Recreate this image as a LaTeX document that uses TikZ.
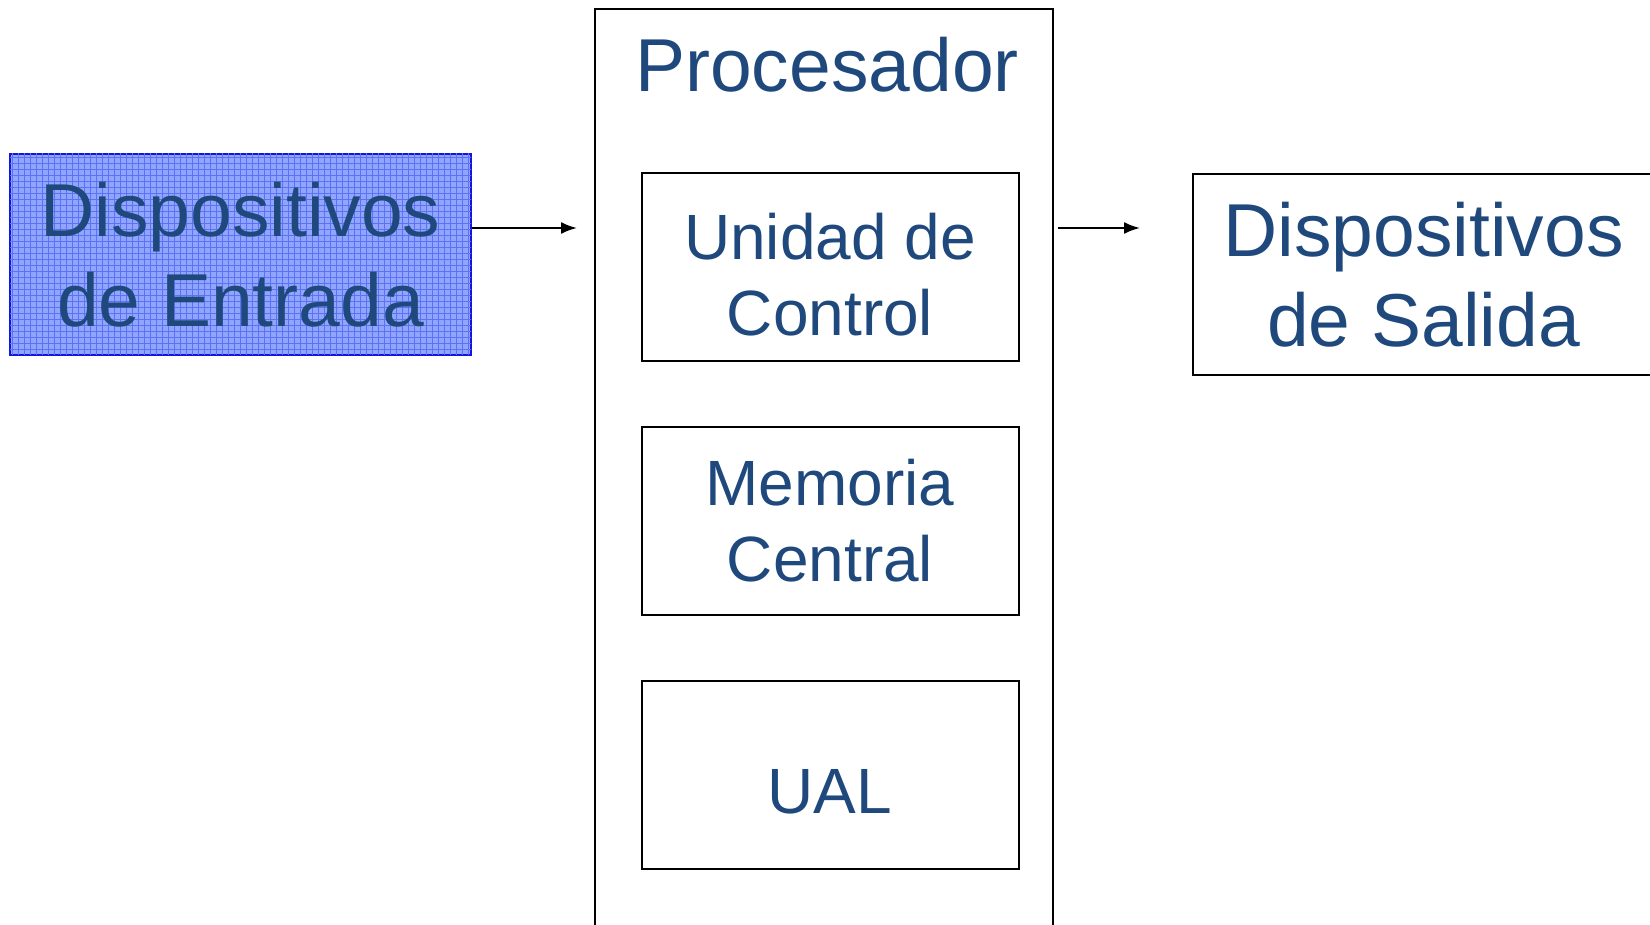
\documentclass[tikz,border=0pt]{standalone}
\usepackage{fontspec}
\setmainfont{Liberation Sans}
\usepackage{tikz}
\usetikzlibrary{matrix,positioning,arrows.meta,patterns}

\definecolor{txtblue}{RGB}{31,73,125}
\definecolor{entradafill}{RGB}{145,165,255}
\definecolor{entradagrid}{RGB}{90,115,245}
\definecolor{entradaline}{RGB}{20,20,225}

\begin{document}
\begin{tikzpicture}[
    x = 0.5pt,
    y = -0.5pt,
    device/.style={
        draw,
        line width = 1pt,
        align = center,
        text = txtblue,
        minimum width = 230.5pt,
        minimum height = 100.5pt,
        inner sep = 0pt,
        font = \fontsize{37.5pt}{45pt}\selectfont
    },
    title/.style={
        anchor = base,
        text = txtblue,
        inner sep = 0pt,
        font = \fontsize{37.5pt}{45pt}\selectfont
    },
    units/.style={
        matrix of nodes,
        nodes={
            draw,
            line width = 1pt,
            text = txtblue,
            minimum width = 188.5pt,
            minimum height = 94pt,
            inner sep = 0pt,
            font = \fontsize{32pt}{38pt}\selectfont
        },
        row sep = 32pt,
        ampersand replacement=\&
    },
    >={Latex[length=8pt,width=6pt]}
    ]

\useasboundingbox (0,0) rectangle (1650,925);

\node[device, draw = entradaline, fill = entradafill,
      postaction = {pattern = grid, pattern color = entradagrid}]
      (entrada) at (240.5,254.5) {Dispositivos\\de Entrada};

\node[draw, line width = 1pt, minimum width = 229pt, minimum height = 468pt]
      (proc) at (824,477) {};
\node[title] (titulo) at (827,92) {Procesador};

\matrix[units] (mat) at (830,521)
{
    \parbox{188pt}{\centering\vspace*{8pt}Unidad de\\Control} \\
    \parbox{188pt}{\centering Memoria\\Central} \\
    |[text height = 38.5pt, text depth = 0pt]| UAL \\
};

\node[device] (salida) at (1423.5,274.5) {Dispositivos\\de Salida};

\coordinate (inarr) at (577,228);
\coordinate (outarr) at (1140,228);
\draw[->, line width = 1pt] (entrada.east |- inarr) -- (inarr);
\draw[->, line width = 1pt, shorten <= 2pt] (proc.east |- outarr) -- (outarr);
\end{tikzpicture}
\end{document}
